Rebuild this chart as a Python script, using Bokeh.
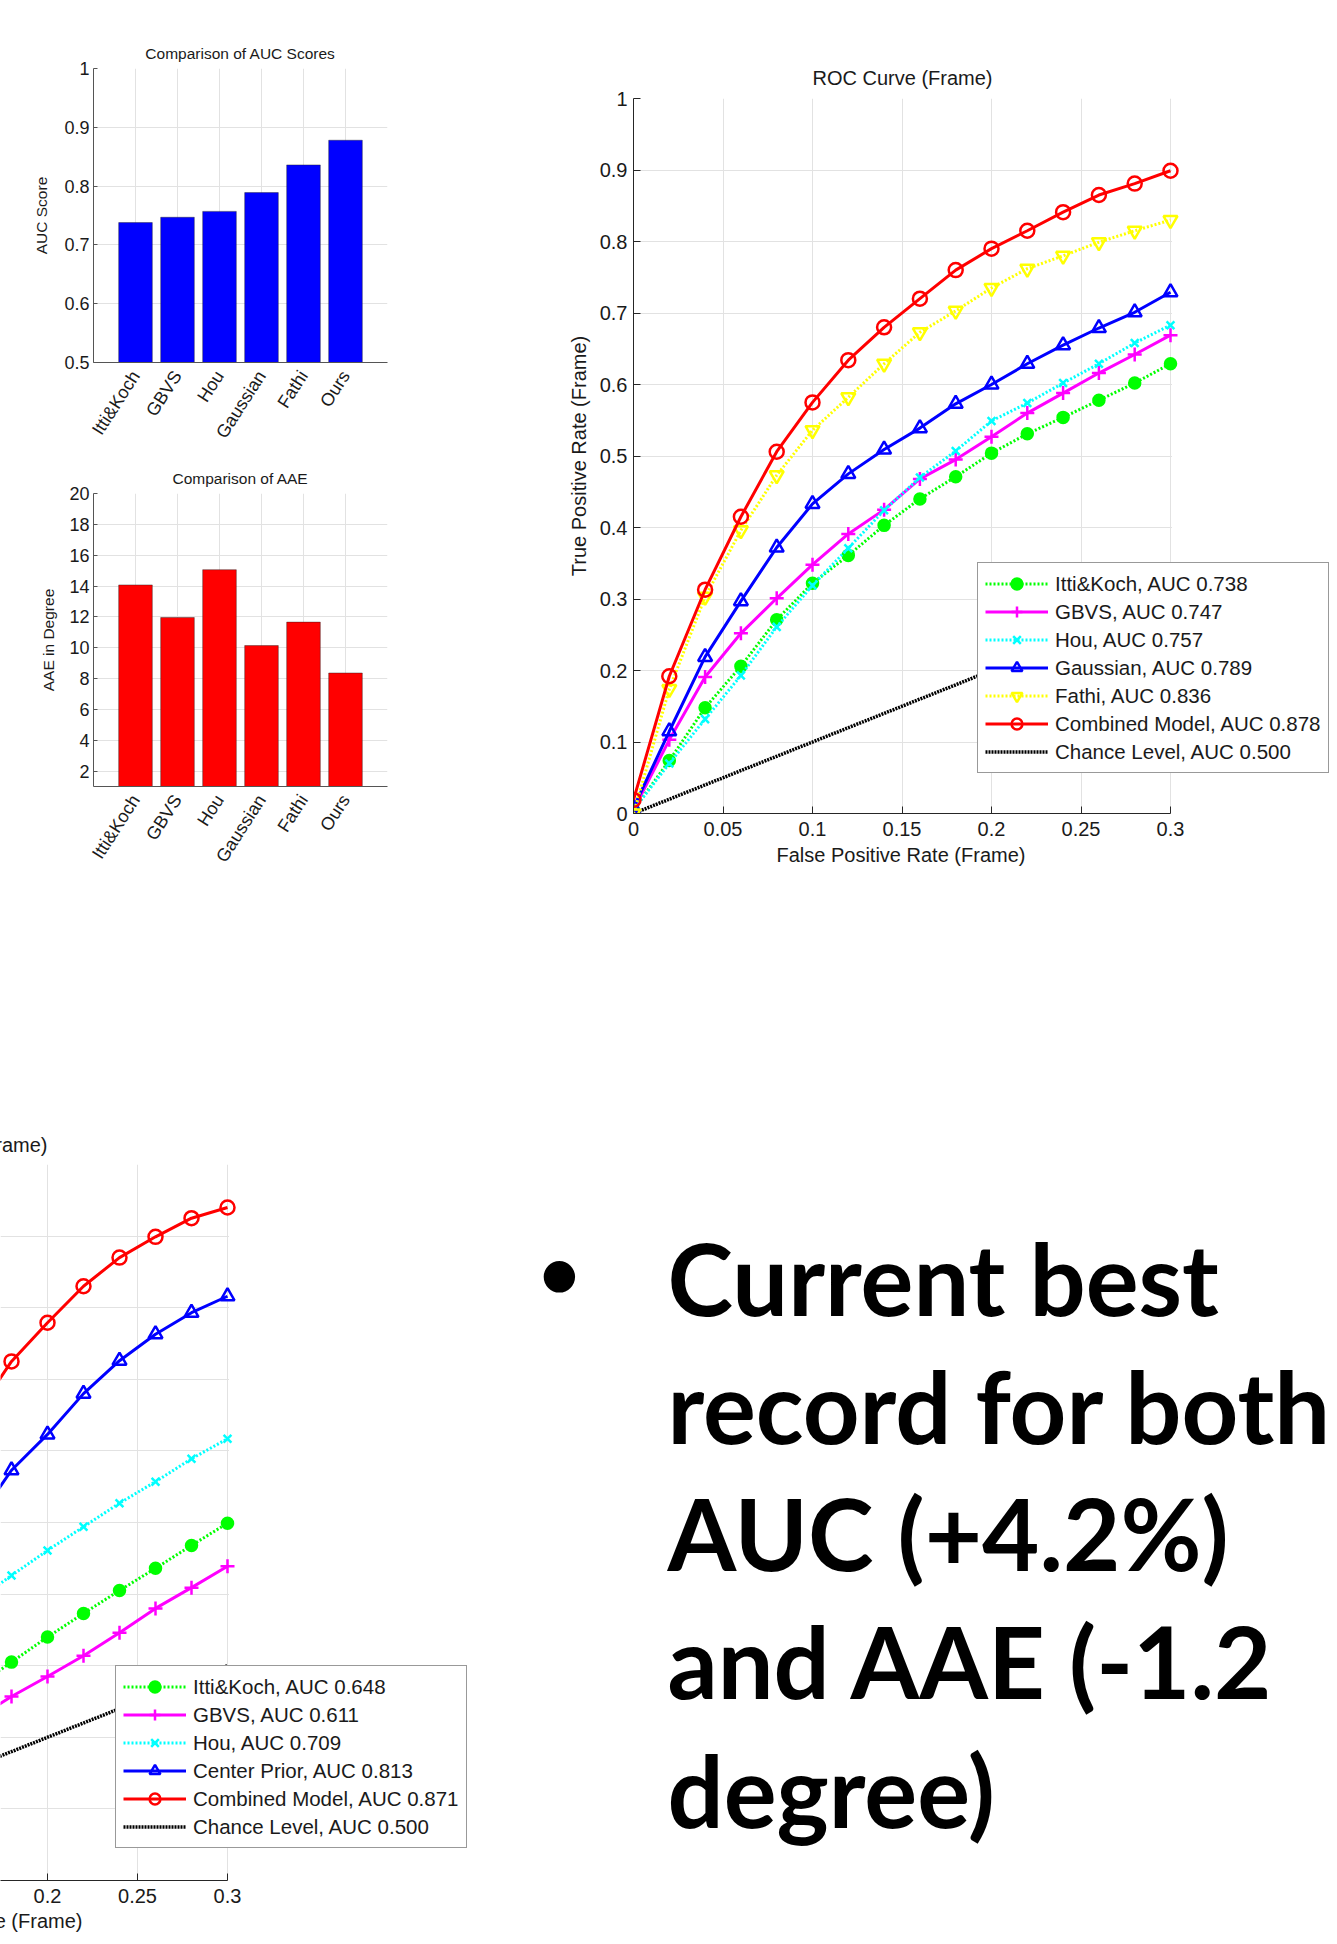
from bokeh.plotting import figure
from bokeh.layouts import column, row
from bokeh.models import (Range1d, FactorRange, FixedTicker, Legend, LegendItem, Grid, Title,
                          BoxAnnotation)
from bokeh.embed import file_html
from bokeh.resources import INLINE
from bokeh.core.properties import value

# ---------------- data ----------------
methods = ["Itti&Koch", "GBVS", "Hou", "Gaussian", "Fathi", "Ours"]
auc_scores = [0.738, 0.747, 0.757, 0.789, 0.836, 0.878]
aae_degrees = [14.07, 11.96, 15.06, 10.14, 11.66, 8.36]
auc_ticks = [0.5, 0.6, 0.7, 0.8, 0.9, 1.0]
aae_ticks = [2, 4, 6, 8, 10, 12, 14, 16, 18, 20]

roc_x_ticks = [0, 0.05, 0.1, 0.15, 0.2, 0.25, 0.3]
roc_y_ticks = [0, 0.1, 0.2, 0.3, 0.4, 0.5, 0.6, 0.7, 0.8, 0.9, 1.0]

# ROC (Frame), top panel
fpr = [0.0, 0.02, 0.04, 0.06, 0.08, 0.10, 0.12, 0.14, 0.16, 0.18, 0.20, 0.22, 0.24, 0.26, 0.28, 0.30]
tpr_itti = [0.005, 0.074, 0.148, 0.206, 0.271, 0.322, 0.361, 0.403, 0.440, 0.471, 0.504, 0.531, 0.554, 0.578, 0.602, 0.629]
tpr_gbvs = [0.005, 0.103, 0.191, 0.252, 0.301, 0.348, 0.391, 0.425, 0.468, 0.495, 0.527, 0.560, 0.588, 0.616, 0.642, 0.669]
tpr_hou = [0.005, 0.070, 0.132, 0.193, 0.261, 0.319, 0.371, 0.424, 0.470, 0.507, 0.549, 0.574, 0.602, 0.629, 0.658, 0.683]
tpr_gauss = [0.008, 0.115, 0.219, 0.297, 0.372, 0.433, 0.475, 0.509, 0.539, 0.573, 0.600, 0.629, 0.655, 0.679, 0.701, 0.729]
tpr_fathi = [0.0, 0.174, 0.303, 0.396, 0.473, 0.536, 0.582, 0.629, 0.673, 0.703, 0.735, 0.762, 0.780, 0.799, 0.815, 0.830]
tpr_comb = [0.019, 0.192, 0.313, 0.415, 0.506, 0.575, 0.634, 0.680, 0.720, 0.760, 0.790, 0.815, 0.841, 0.865, 0.881, 0.899]
chance_fpr = [0.0, 0.3]
chance_tpr = [0.0, 0.3]
roc1_labels = ["Itti&Koch, AUC 0.738", "GBVS, AUC 0.747", "Hou, AUC 0.757", "Gaussian, AUC 0.789",
               "Fathi, AUC 0.836", "Combined Model, AUC 0.878", "Chance Level, AUC 0.500"]

# ROC (Frame), bottom panel (only the right part is visible)
fpr2 = [0.16, 0.18, 0.20, 0.22, 0.24, 0.26, 0.28, 0.30]
tpr2_itti = [0.270, 0.305, 0.340, 0.373, 0.405, 0.436, 0.468, 0.499]
tpr2_gbvs = [0.225, 0.257, 0.285, 0.314, 0.346, 0.380, 0.409, 0.439]
tpr2_hou = [0.390, 0.426, 0.461, 0.494, 0.527, 0.557, 0.589, 0.617]
tpr2_center = [0.500, 0.573, 0.623, 0.680, 0.726, 0.763, 0.793, 0.816]
tpr2_comb = [0.650, 0.725, 0.779, 0.830, 0.870, 0.899, 0.925, 0.940]
roc2_labels = ["Itti&Koch, AUC 0.648", "GBVS, AUC 0.611", "Hou, AUC 0.709", "Center Prior, AUC 0.813",
               "Combined Model, AUC 0.871", "Chance Level, AUC 0.500"]

bullet_lines = ["Current best", "record for both", "AUC (+4.2%)", "and AAE (-1.2", "degree)"]

# ---------------- styles ----------------
FONT = "Liberation Sans"
AX = "#262626"
GRID = "#e2e2e2"
TXT = "#1a1a1a"


def tick_labels(ticks):
    return {t: ("%g" % t) for t in ticks}


def bar_chart(title, vals, color, y0, y1, yticks, ylabel, frame_h, btop, bbottom, standoff, lab_standoff):
    p = figure(x_range=FactorRange(factors=methods, range_padding=0.5, range_padding_units="absolute"),
               y_range=Range1d(y0, y1), frame_width=294, frame_height=frame_h,
               min_border_left=93, min_border_right=121, min_border_top=btop, min_border_bottom=bbottom,
               toolbar_location=None, output_backend="svg", title=title)
    p.vbar(x=methods, top=vals, bottom=0, width=0.8, fill_color=color,
           line_color="#202020", line_width=0.6, line_alpha=0.7)
    p.title.align = "center"
    p.title.text_font = FONT
    p.title.text_font_size = "15.5px"
    p.title.text_font_style = "normal"
    p.title.text_color = TXT
    p.title.standoff = standoff
    p.outline_line_color = None
    p.grid.grid_line_color = GRID
    p.yaxis.ticker = FixedTicker(ticks=yticks)
    p.yaxis.major_label_overrides = tick_labels(yticks)
    p.yaxis.axis_label = ylabel
    p.yaxis.axis_label_text_font = FONT
    p.yaxis.axis_label_text_font_size = "15.5px"
    p.yaxis.axis_label_text_font_style = "normal"
    p.yaxis.axis_label_text_color = TXT
    p.yaxis.axis_label_standoff = lab_standoff
    p.yaxis.major_label_standoff = 4
    p.axis.major_label_text_font = FONT
    p.axis.major_label_text_font_size = "18px"
    p.axis.major_label_text_color = TXT
    p.axis.axis_line_color = "#555555"
    p.axis.minor_tick_line_color = None
    p.yaxis.major_tick_in = 4
    p.yaxis.major_tick_out = 0
    p.yaxis.major_tick_line_color = "#555555"
    p.xaxis.major_tick_line_color = None
    p.xaxis.major_label_orientation = 1.0
    p.xaxis.major_label_standoff = 4
    return p


auc_fig = bar_chart("Comparison of AUC Scores", auc_scores, "#0000FF", 0.5, 1.0, auc_ticks,
                    "AUC Score", 294, 68, 90, 14, 11)
aae_fig = bar_chart("Comparison of AAE", aae_degrees, "#FF0000", 1, 20, aae_ticks,
                    "AAE in Degree", 293, 41, 94, 14, 9)


def style_roc(p, x_end_pad):
    p.outline_line_color = None
    p.grid.grid_line_color = GRID
    p.grid.level = "image"
    p.axis.axis_line_color = AX
    p.axis.major_tick_line_color = AX
    p.axis.major_tick_in = 7
    p.axis.major_tick_out = 0
    p.axis.minor_tick_line_color = None
    p.axis.major_label_text_font = FONT
    p.axis.major_label_text_font_size = "20px"
    p.axis.major_label_text_color = TXT
    p.axis.axis_label_text_font = FONT
    p.axis.axis_label_text_font_size = "20px"
    p.axis.axis_label_text_font_style = "normal"
    p.axis.axis_label_text_color = TXT
    p.xaxis.ticker = FixedTicker(ticks=roc_x_ticks)
    p.xaxis.major_label_overrides = tick_labels(roc_x_ticks)
    p.xaxis.major_label_standoff = 8
    p.xaxis.bounds = (roc_x_ticks[0], roc_x_ticks[-1])
    # blank area right of the axes (room for the legend), hides grid lines there
    p.add_layout(BoxAnnotation(left=roc_x_ticks[-1] + x_end_pad, fill_color="white", fill_alpha=1.0,
                               line_color=None, level="underlay"))


def add_title(p, text, side, offset, standoff):
    t = Title(text=text, align="left", offset=offset, standoff=standoff, text_font=FONT,
              text_font_size="20px", text_font_style="normal", text_color=TXT)
    p.add_layout(t, side)


STYLES = {
    "itti": dict(color="#00FF00", dash="2 2", marker="circle", size=11, filled=True),
    "gbvs": dict(color="#FF00FF", dash="solid", marker="cross", size=14, filled=False),
    "hou": dict(color="#00FFFF", dash="2 2", marker="x", size=11, filled=False),
    "gauss": dict(color="#0000FF", dash="solid", marker="triangle", size=14, filled=False),
    "fathi": dict(color="#FFFF00", dash="2 2", marker="inverted_triangle", size=14, filled=False),
    "comb": dict(color="#FF0000", dash="solid", marker="circle", size=14, filled=False),
}


def add_series(p, xs, ys, st):
    ln = p.line(xs, ys, line_color=st["color"], line_width=3, line_dash=st["dash"])
    sc = p.scatter(xs, ys, marker=st["marker"], size=st["size"], line_color=st["color"], line_width=2.5,
                   fill_color=st["color"] if st["filled"] else None)
    return [ln, sc]


def make_legend(items, loc):
    return Legend(items=items, location=loc, margin=0, padding=7, spacing=1,
                  glyph_width=63, glyph_height=27, label_height=27, label_standoff=7,
                  label_text_font=FONT, label_text_font_size="20.5px", label_text_color=TXT,
                  border_line_color="#333333", border_line_width=1.2, background_fill_color="white",
                  background_fill_alpha=1.0)


# top ROC: 1790 px per unit on x; frame runs past 0.3 to hold the legend
PX1 = 1790.0
roc = figure(x_range=Range1d(0, 704 / PX1), y_range=Range1d(0, 1), frame_width=704, frame_height=715,
             min_border_left=125, min_border_right=0, min_border_top=98, min_border_bottom=67,
             y_axis_label="True Positive Rate (Frame)", toolbar_location=None, output_backend="svg")
style_roc(roc, 1.5 / PX1)
roc.yaxis.ticker = FixedTicker(ticks=roc_y_ticks)
roc.yaxis.major_label_overrides = tick_labels(roc_y_ticks)
roc.yaxis.major_label_standoff = 6
roc.yaxis.axis_label_standoff = 7
add_title(roc, "ROC Curve (Frame)", "above", 179, 20)
add_title(roc, "False Positive Rate (Frame)", "below", 143, 6)

chance1 = roc.line(chance_fpr, chance_tpr, line_color="black", line_width=3.5, line_dash="2 1")
r_itti = add_series(roc, fpr, tpr_itti, STYLES["itti"])
r_gbvs = add_series(roc, fpr, tpr_gbvs, STYLES["gbvs"])
r_hou = add_series(roc, fpr, tpr_hou, STYLES["hou"])
r_gauss = add_series(roc, fpr, tpr_gauss, STYLES["gauss"])
r_fathi = add_series(roc, fpr, tpr_fathi, STYLES["fathi"])
r_comb = add_series(roc, fpr, tpr_comb, STYLES["comb"])
items1 = [LegendItem(label=lab, renderers=rs) for lab, rs in
          zip(roc1_labels, [r_itti, r_gbvs, r_hou, r_gauss, r_fathi, r_comb, [chance1]])]
roc.add_layout(make_legend(items1, (344, 40)))

# bottom ROC (cropped on the left): 1800 px per unit on x
PX2 = 1800.0
x2_start = 0.3 - 227 / PX2
roc2 = figure(x_range=Range1d(x2_start, x2_start + 480 / PX2), y_range=Range1d(0, 1),
              frame_width=480, frame_height=716, y_axis_location=None,
              min_border_left=0, min_border_right=0, min_border_top=284, min_border_bottom=60,
              toolbar_location=None, output_backend="svg")
style_roc(roc2, 1.5 / PX2)
roc2.ygrid.visible = False
roc2.add_layout(Grid(dimension=1, ticker=FixedTicker(ticks=roc_y_ticks), grid_line_color=GRID, level="image"))
add_title(roc2, "ROC Curve (Frame)", "above", -133, 18)
add_title(roc2, "False Positive Rate (Frame)", "below", -167, 4)
chance2 = roc2.line(chance_fpr, chance_tpr, line_color="black", line_width=3.5, line_dash="2 1")
s_itti = add_series(roc2, fpr2, tpr2_itti, STYLES["itti"])
s_gbvs = add_series(roc2, fpr2, tpr2_gbvs, STYLES["gbvs"])
s_hou = add_series(roc2, fpr2, tpr2_hou, STYLES["hou"])
s_center = add_series(roc2, fpr2, tpr2_center, STYLES["gauss"])
s_comb = add_series(roc2, fpr2, tpr2_comb, STYLES["comb"])
items2 = [LegendItem(label=lab, renderers=rs) for lab, rs in
          zip(roc2_labels, [s_itti, s_gbvs, s_hou, s_center, s_comb, [chance2]])]
roc2.add_layout(make_legend(items2, (115, 32)))

# bullet text panel (page coordinates; frame aligned with the bottom ROC frame)
txt = figure(x_range=Range1d(480, 1337), y_range=Range1d(1880, 1164), frame_width=857, frame_height=716,
             x_axis_location=None, y_axis_location=None, min_border_left=0, min_border_right=0,
             min_border_top=284, min_border_bottom=60, toolbar_location=None, output_backend="svg")
txt.grid.visible = False
txt.outline_line_color = None
txt.text(x=[559], y=[1269], text=["\u2022"], text_font=value("Lato"), text_font_style="bold",
         text_font_size="72px", text_align="center", text_baseline="alphabetic", text_color="black")
txt.text(x=[667] * len(bullet_lines), y=[1277, 1405, 1532, 1660, 1789], text=bullet_lines,
         text_font=value("Lato"), text_font_style="bold", text_font_size="99px",
         text_align="left", text_baseline="alphabetic", text_color="black")

layout = column(row(column(auc_fig, aae_fig), roc), row(roc2, txt))

open("out.html", "w").write(file_html(layout, INLINE))
